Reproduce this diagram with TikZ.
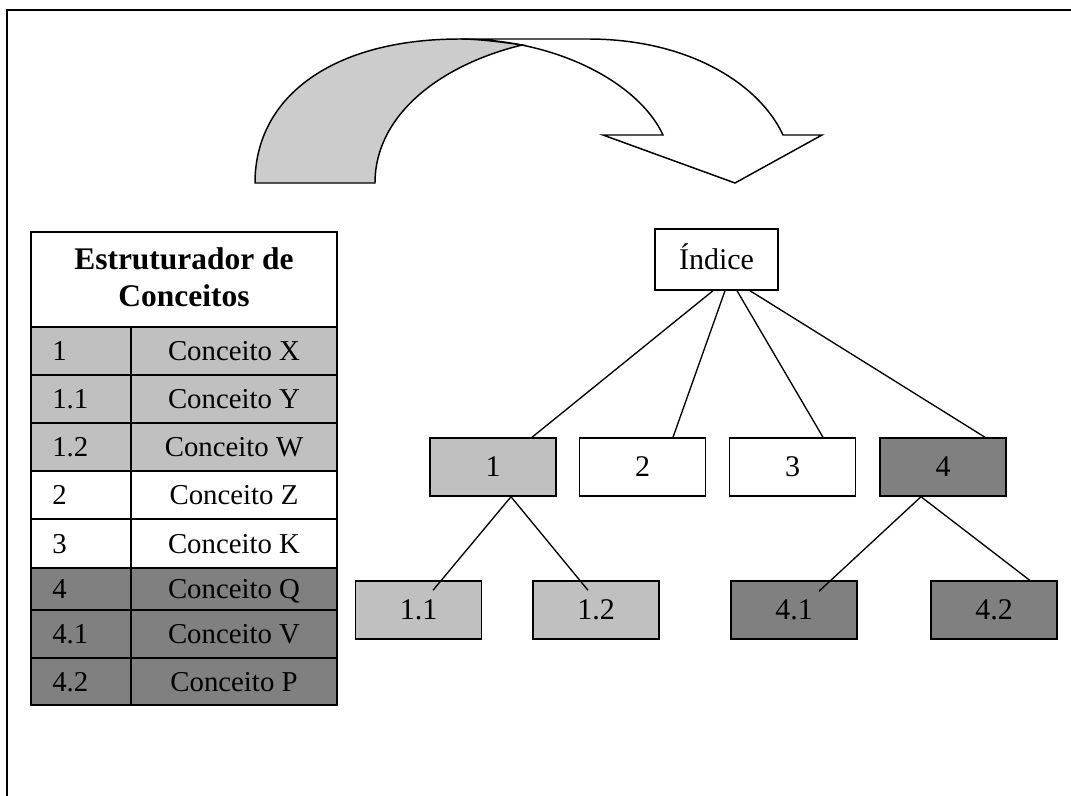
\documentclass[tikz,border=0pt]{standalone}
\usepackage{fontspec}
\setmainfont{Liberation Serif}
\usetikzlibrary{calc}
\definecolor{lightgr}{HTML}{C0C0C0}
\definecolor{darkgr}{HTML}{808080}
\definecolor{arrowgr}{HTML}{CCCCCC}

\begin{document}
\begin{tikzpicture}[x=0.75pt,y=-0.75pt,
  txt/.style={font=\fontsize{21.6}{26}\selectfont, inner sep=0pt},
  hdr/.style={font=\bfseries\fontsize{23.6}{28}\selectfont, inner sep=0pt},
  treebox/.style={draw, line width=1.1pt, minimum width=94.5pt, minimum height=43.5pt,
    inner sep=0pt, text height=14.25pt, text depth=0pt, font=\fontsize{22.5}{27}\selectfont},
  link/.style={line width=1pt},
  grid/.style={line width=1.1pt}]
\useasboundingbox (0,0) rectangle (1071,796);

% page frame (top and left edges)
\draw[line width=1.6pt] (1071,10) -- (7,10) -- (7,796);

% curved down arrow: front band with head, then shaded back band
\filldraw[fill=white, line width=1.1pt, line join=miter]
  (460,39) -- (588,39) .. controls (690,39) and (760,85) .. (783,135)
  -- (822,135) -- (735,183) -- (603,135) -- (663,135)
  .. controls (640,85) and (560,39) .. (460,39) -- cycle;
\filldraw[fill=arrowgr, line width=1.1pt]
  (255,183) -- (375,183) .. controls (375,115) and (440,65) .. (522,45)
  .. controls (495,41) and (475,39) .. (460,39)
  .. controls (335,39) and (255,95) .. (255,183) -- cycle;

% concept table
\filldraw[fill=white, grid] (31,232) rectangle (337,327);
\node[hdr, anchor=base] (hdrA) at (184,269) {Estruturador de};
\node[hdr, anchor=base] (hdrB) at (184,306) {Conceitos};
\foreach \num/\ytop/\ybot/\col/\name [count=\i] in {
  1/327/375/lightgr/Conceito X,
  1.1/375/423/lightgr/Conceito Y,
  1.2/423/471/lightgr/Conceito W,
  2/471/519/white/Conceito Z,
  3/519/568/white/Conceito K,
  4/568/610/darkgr/Conceito Q,
  4.1/610/658/darkgr/Conceito V,
  4.2/658/705/darkgr/Conceito P}{
  \filldraw[fill=\col, grid] (31,\ytop) rectangle (131,\ybot);
  \filldraw[fill=\col, grid] (131,\ytop) rectangle (337,\ybot);
  \node[txt, anchor=base west] (num\i) at (52,{(\ytop+\ybot)/2+9.5}) {\num};
  \node[txt, anchor=base] (con\i) at (234,{(\ytop+\ybot)/2+9.5}) {\name};
}

% index tree
\node[treebox, fill=white, minimum width=92.25pt, minimum height=45.75pt] (idx) at (716.5,259.5) {Índice};
\node[treebox, fill=lightgr] (n1) at (493,467) {1};
\node[treebox, fill=white] (n2) at (642.5,467) {2};
\node[treebox, fill=white] (n3) at (792.5,467) {3};
\node[treebox, fill=darkgr] (n4) at (943,467) {4};
\node[treebox, fill=lightgr] (n11) at (418.5,610) {1.1};
\node[treebox, fill=lightgr] (n12) at (596,610) {1.2};
\node[treebox, fill=darkgr] (n41) at (794,610) {4.1};
\node[treebox, fill=darkgr] (n42) at (994,610) {4.2};

\draw[link] ($(idx.south)+(-3.5,0)$) -- ($(n1.north)+(39,0)$);
\draw[link] ($(idx.south)+(8.5,0)$) -- ($(n2.north)+(30.5,0)$);
\draw[link] ($(idx.south)+(20.5,0)$) -- ($(n3.north)+(30.5,0)$);
\draw[link] ($(idx.south)+(33.5,0)$) -- ($(n4.north)+(42,0)$);
\draw[link] ($(n1.south)+(18,0)$) -- ($(n11.north)+(14.5,10)$);
\draw[link] ($(n1.south)+(18,0)$) -- ($(n12.north)+(-8,10)$);
\draw[link] ($(n4.south)+(-22,0)$) -- ($(n41.north)+(25,11)$);
\draw[link] ($(n4.south)+(-22,0)$) -- ($(n42.north)+(37,1)$);
\end{tikzpicture}
\end{document}
